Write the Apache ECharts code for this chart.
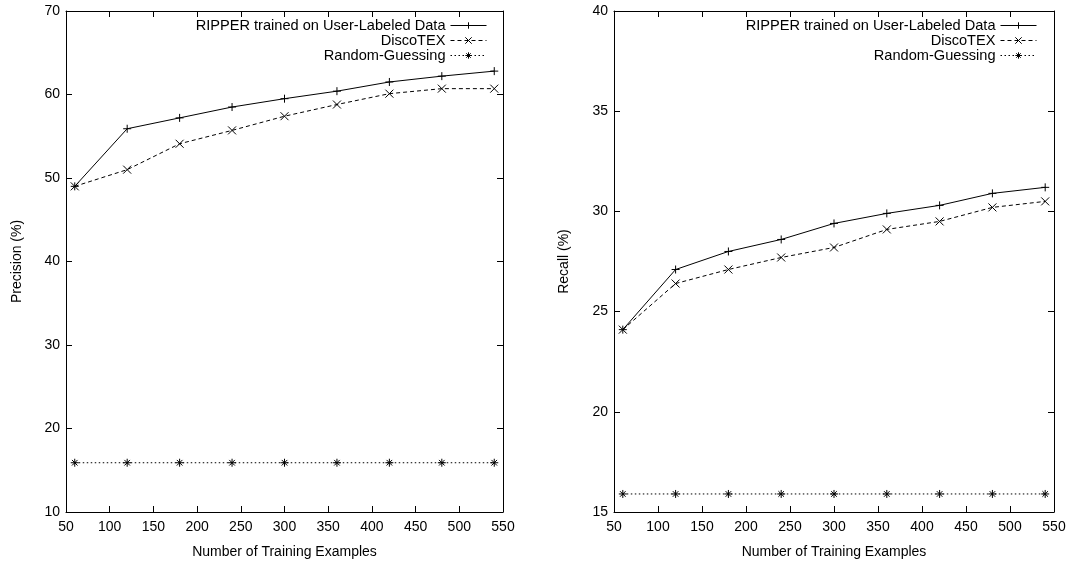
<!DOCTYPE html>
<html>
<head>
<meta charset="utf-8">
<script src="https://cdn.jsdelivr.net/npm/echarts@6/dist/echarts.min.js"></script>
<style>
html,body{margin:0;padding:0;background:#fff;}
#chart{width:1091px;height:562px;}
</style>
</head>
<body>
<div id="chart"></div>
<script>
// ---- data ----
const trainingExamples = [60, 120, 180, 240, 300, 360, 420, 480, 540];
const seriesNames = ['RIPPER trained on User-Labeled Data', 'DiscoTEX', 'Random-Guessing'];
const precisionRipper = [49.0, 55.9, 57.2, 58.5, 59.5, 60.4, 61.5, 62.2, 62.8];
const precisionDiscotex = [49.0, 51.0, 54.1, 55.7, 57.4, 58.8, 60.1, 60.7, 60.7];
const precisionRandom = [15.9, 15.9, 15.9, 15.9, 15.9, 15.9, 15.9, 15.9, 15.9];
const recallRipper = [24.1, 27.1, 28.0, 28.6, 29.4, 29.9, 30.3, 30.9, 31.2];
const recallDiscotex = [24.1, 26.4, 27.1, 27.7, 28.2, 29.1, 29.5, 30.2, 30.5];
const recallRandom = [15.9, 15.9, 15.9, 15.9, 15.9, 15.9, 15.9, 15.9, 15.9];
const xAxisTitle = 'Number of Training Examples';
const leftYTitle = 'Precision (%)';
const rightYTitle = 'Recall (%)';

// ---- styles ----
const FONT = 'Liberation Sans';
const FS = 14;
const SYM_PLUS = 'path://M5,0L5,10M0,5L10,5';
const SYM_X = 'path://M0,0L10,10M10,0L0,10';
const SYM_STAR = 'path://M5,0L5,10M0,5L10,5M1.5,1.5L8.5,8.5M8.5,1.5L1.5,8.5';
const styles = [
  {symbol: SYM_PLUS, type: 'solid'},
  {symbol: SYM_X, type: [4, 3]},
  {symbol: SYM_STAR, type: [1.5, 2.5]}
];

function pairs(vals) { return trainingExamples.map((x, i) => [x, vals[i]]); }

function makeSeries(arr, gi) {
  return arr.map((vals, k) => ({
    name: seriesNames[k],
    type: 'line',
    xAxisIndex: gi * 2,
    yAxisIndex: gi * 2,
    data: pairs(vals),
    symbol: styles[k].symbol,
    symbolSize: 8,
    showAllSymbol: true,
    animation: false,
    lineStyle: {color: '#000', width: 1, type: styles[k].type},
    itemStyle: {color: 'rgba(0,0,0,0)', borderColor: '#000', borderWidth: 1},
    emphasis: {disabled: true}
  }));
}

function xAxes(gi) {
  const base = {
    gridIndex: gi, type: 'value', min: 50, max: 550, interval: 50,
    splitLine: {show: false},
    axisLine: {show: true, onZero: false, lineStyle: {color: '#000', width: 1}},
    axisTick: {show: true, inside: true, length: 6, lineStyle: {color: '#000'}}
  };
  return [
    Object.assign({}, base, {
      position: 'bottom',
      axisLabel: {color: '#000', fontFamily: FONT, fontSize: FS, margin: 8},
      name: xAxisTitle, nameLocation: 'middle', nameGap: 33,
      nameTextStyle: {color: '#000', fontFamily: FONT, fontSize: FS}
    }),
    Object.assign({}, base, {position: 'top', axisLabel: {show: false}})
  ];
}

function yAxes(gi, min, max, interval, title, gap) {
  const base = {
    gridIndex: gi, type: 'value', min: min, max: max, interval: interval,
    splitLine: {show: false},
    axisLine: {show: true, onZero: false, lineStyle: {color: '#000', width: 1}},
    axisTick: {show: true, inside: true, length: 6, lineStyle: {color: '#000'}}
  };
  return [
    Object.assign({}, base, {
      position: 'left',
      axisLabel: {color: '#000', fontFamily: FONT, fontSize: FS, margin: 6},
      name: title, nameLocation: 'middle', nameGap: gap, nameRotate: 90,
      nameTextStyle: {color: '#000', fontFamily: FONT, fontSize: FS}
    }),
    Object.assign({}, base, {position: 'right', axisLabel: {show: false}})
  ];
}

function legend(right) {
  return {
    orient: 'vertical', right: right, top: 18, padding: 0,
    align: 'right', itemWidth: 36, itemHeight: 8, itemGap: 0,
    selectedMode: false,
    data: seriesNames,
    itemStyle: {color: 'rgba(0,0,0,0)', borderColor: '#000', borderWidth: 1},
    lineStyle: {width: 1, color: '#000'},
    textStyle: {color: '#000', fontFamily: FONT, fontSize: 14.6}
  };
}

const chart = echarts.init(document.getElementById('chart'), null, {renderer: 'canvas'});
chart.setOption({
  backgroundColor: '#fff',
  animation: false,
  grid: [
    {left: 66, right: 588, top: 11, bottom: 50, outerBoundsMode: 'none', containLabel: false},
    {left: 614, right: 37, top: 11, bottom: 50, outerBoundsMode: 'none', containLabel: false}
  ],
  legend: [legend(604), legend(54)],
  xAxis: [...xAxes(0), ...xAxes(1)],
  yAxis: [...yAxes(0, 10, 70, 10, leftYTitle, 42), ...yAxes(1, 15, 40, 5, rightYTitle, 43)],
  series: [
    ...makeSeries([precisionRipper, precisionDiscotex, precisionRandom], 0),
    ...makeSeries([recallRipper, recallDiscotex, recallRandom], 1)
  ]
});
</script>
</body>
</html>
